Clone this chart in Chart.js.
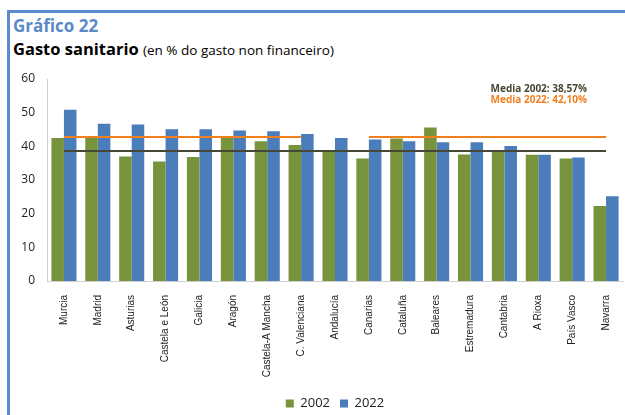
<!DOCTYPE html>
<html lang="gl">
<head>
    <meta charset="UTF-8">
    <script src="https://cdn.jsdelivr.net/npm/chart.js"></script>
    <style>
        body{
            margin:0;
            width:625px;
            height:415px;
            overflow:hidden;
            background:#fff;
            font-family:"Open Sans", sans-serif;
        }
        .frame{
            position:absolute;
            left:7px; top:10px; right:-5px; bottom:-5px;
            border-left:3px solid #5b8bd0;
            border-top:3px solid #5b8bd0;
        }
        .titulo{
            position:absolute; left:13px; top:14px;
            font-size:17px; font-weight:bold; color:#5a8ac6;
        }
        .subtitulo{
            position:absolute; left:13px; top:37px;
            font-size:16.5px; font-weight:bold; color:#000; white-space:nowrap;
        }
        .subtitulo span{ font-size:13.5px; font-weight:normal; }
        #grafico{ position:absolute; left:0; top:0; }
    </style>
    <title>Gasto sanitario</title>
</head>
<body>
    <div class="frame"></div>
    <div class="titulo">Gráfico 22</div>
    <div class="subtitulo">Gasto sanitario <span>(en % do gasto non financeiro)</span></div>
    <!-- un pouco máis alto que a xanela, para baixar a lenda -->
    <canvas id="grafico" width="625" height="420"></canvas>

    <script>
        const categorias = ['Murcia','Madrid','Asturias','Castela e León','Galicia','Aragón','Castela-A Mancha',
            'C. Valenciana','Andalucía','Canarias','Cataluña','Baleares','Estremadura','Cantabria','A Rioxa','País Vasco','Navarra'];
        const datos2002 = [42.5, 42.7, 37.0, 35.5, 36.8, 42.5, 41.5, 40.4, 38.6, 36.4, 42.3, 45.6, 37.6, 38.5, 37.5, 36.4, 22.3];
        const datos2022 = [50.9, 46.7, 46.5, 45.1, 45.1, 44.7, 44.5, 43.7, 42.5, 42.0, 41.5, 41.2, 41.2, 40.1, 37.5, 36.7, 25.2];

        // liñas de media (nivel debuxado; a de 2022 ten un oco en Andalucía)
        const media2002 = [38.6, 38.6, 38.6, 38.6, 38.6, 38.6, 38.6, 38.6, 38.6, 38.6, 38.6, 38.6, 38.6, 38.6, 38.6, 38.6, 38.6];
        const media2022 = [42.8, 42.8, 42.8, 42.8, 42.8, 42.8, 42.8, 42.8, null, 42.8, 42.8, 42.8, 42.8, 42.8, 42.8, 42.8, 42.8];
        const textosMedia = ['Media 2002: 38,57%', 'Media 2022: 42,10%'];
        const yTicks = [0, 10, 20, 30, 40, 50, 60];

        const verde = '#77933c';
        const azul = '#4a7dba';
        const laranxa = '#f0801e';
        const escuro = '#474736';

        // textos das medias
        const pluginMedias = {
            id: 'textos_medias',
            afterDraw: (chart) => {
                const ctx = chart.ctx;
                const area = chart.chartArea;
                ctx.save();
                ctx.font = 'bold 10px "Open Sans"';
                ctx.textAlign = 'right';
                ctx.textBaseline = 'middle';
                ctx.fillStyle = escuro;
                ctx.fillText(textosMedia[0], area.right - 36, area.top + 10);
                ctx.fillStyle = laranxa;
                ctx.fillText(textosMedia[1], area.right - 36, area.top + 21);
                ctx.restore();
            }
        };

        const config = {
            data: {
                labels: categorias,
                datasets: [
                    { type: 'bar', label: '2002', data: datos2002, backgroundColor: verde, order: 2,
                      barPercentage: 1, categoryPercentage: 0.74 },
                    { type: 'bar', label: '2022', data: datos2022, backgroundColor: azul, order: 2,
                      barPercentage: 1, categoryPercentage: 0.74 },
                    { type: 'line', label: 'm2002', data: media2002, borderColor: escuro, borderWidth: 2,
                      pointRadius: 0, spanGaps: false, order: 0 },
                    { type: 'line', label: 'm2022', data: media2022, borderColor: laranxa, borderWidth: 2,
                      pointRadius: 0, spanGaps: false, order: 1 },
                ]
            },
            plugins: [pluginMedias],
            options: {
                responsive: false,
                animation: false,
                layout: {
                    padding: { top: 79, left: 8, right: 2, bottom: 0 }
                },
                plugins: {
                    tooltip: { enabled: false },
                    legend: {
                        position: 'bottom',
                        fullSize: false,
                        labels: {
                            boxWidth: 8,
                            boxHeight: 8,
                            padding: 10,
                            color: '#222',
                            font: { family: 'Open Sans', size: 13 },
                            filter: (item) => item.text === '2002' || item.text === '2022'
                        }
                    }
                },
                scales: {
                    x: {
                        grid: { display: false },
                        border: { color: '#d0d0d0' },
                        ticks: {
                            autoSkip: false,
                            minRotation: 90,
                            maxRotation: 90,
                            padding: 6,
                            color: '#222',
                            font: { family: 'Liberation Sans', size: 10 }
                        },
                        afterFit: (s) => { s.height = 106; }
                    },
                    y: {
                        min: 0,
                        max: 60,
                        afterBuildTicks: (s) => { s.ticks = yTicks.map(v => ({ value: v })); },
                        grid: { display: false },
                        border: { color: '#d0d0d0' },
                        ticks: {
                            padding: 4,
                            color: '#222',
                            font: { family: 'Open Sans', size: 12 }
                        },
                        afterFit: (s) => { s.width = 39; }
                    }
                }
            }
        };

        const grafico = new Chart(document.getElementById('grafico').getContext('2d'), config);
    </script>
</body>
</html>
